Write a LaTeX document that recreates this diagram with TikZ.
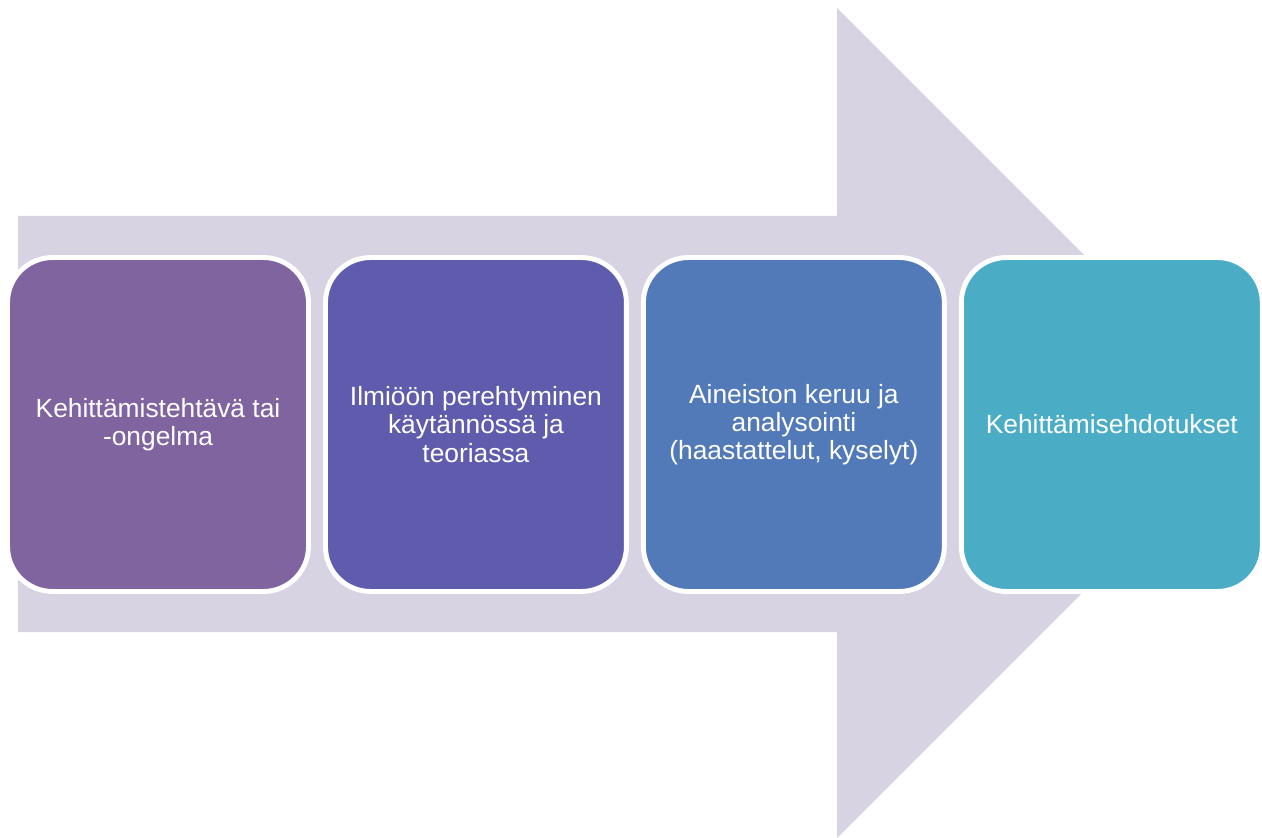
\documentclass[tikz,border=0pt]{standalone}
\usepackage{fontspec}
\setmainfont{Liberation Sans}
\usetikzlibrary{positioning}

\definecolor{arrowgray}{RGB}{216,211,226}
\definecolor{phaseA}{RGB}{128,100,160}
\definecolor{phaseB}{RGB}{95,92,174}
\definecolor{phaseC}{RGB}{82,122,184}
\definecolor{phaseD}{RGB}{75,172,198}

\tikzset{
  phase/.style = {
    draw = white, line width = 2.8pt, rounded corners = 0.9cm,
    minimum width = 6.02cm, minimum height = 6.68cm, outer sep = 0pt,
    text = white, align = center, inner sep = 0pt,
    font = \fontsize{15}{16}\selectfont
  }
}

\begin{document}
\begin{tikzpicture}[x=0.02cm, y=-0.02cm]

    \useasboundingbox (0,0) rectangle (1262,838);

    % Big background arrow
    \fill[arrowgray] (18,216) -- (837,216) -- (837,8) -- (1252,423)
        -- (837,838) -- (837,632) -- (18,632) -- cycle;

    % Phases
    \node[phase, fill=phaseA] (tehtava) at (158,424.5) {Kehittämistehtävä tai\\-ongelma};
    \node[phase, fill=phaseB, right=0.34cm of tehtava] (perehtyminen) {Ilmiöön perehtyminen\\käytännössä ja\\teoriassa};
    \node[phase, fill=phaseC, right=0.34cm of perehtyminen] (aineisto) {Aineiston keruu ja\\analysointi\\(haastattelut, kyselyt)};
    \node[phase, fill=phaseD, right=0.34cm of aineisto] (ehdotukset) {Kehittämisehdotukset};

\end{tikzpicture}
\end{document}
